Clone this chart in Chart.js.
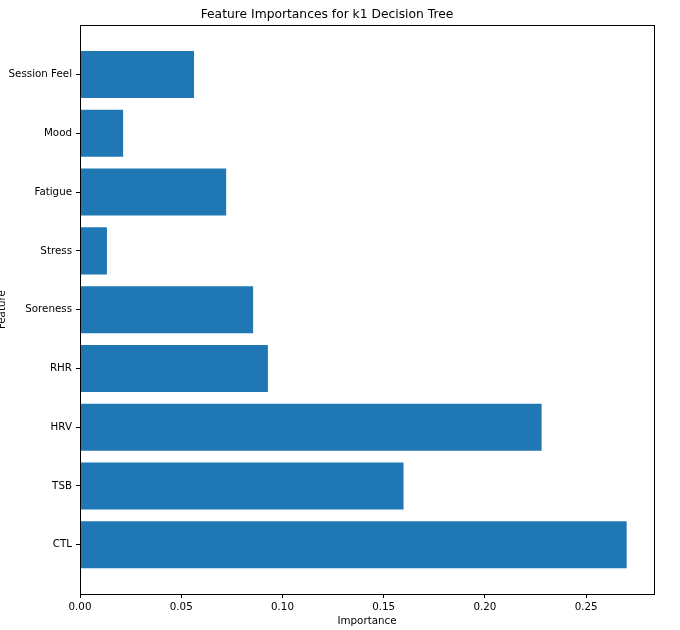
<!DOCTYPE html>
<html>
<head>
<meta charset="utf-8">
<script src="https://cdn.jsdelivr.net/npm/chart.js@4.4.1/dist/chart.umd.min.js"></script>
<style>
  html, body { margin: 0; padding: 0; background: #ffffff; }
  #wrap { width: 680px; height: 630px; position: relative; }
</style>
</head>
<body>
<div id="wrap"><canvas id="c"></canvas></div>
<script>
const categories = ["CTL", "TSB", "HRV", "RHR", "Soreness", "Stress", "Fatigue", "Mood", "Session Feel"];
const importances = [0.2700, 0.1598, 0.2280, 0.0928, 0.0855, 0.0133, 0.0722, 0.0213, 0.0563];
const xTicks = [0.00, 0.05, 0.10, 0.15, 0.20, 0.25];
const titleText = "Feature Importances for k1 Decision Tree";
const xLabel = "Importance";
const yLabel = "Feature";

const FONT = "'DejaVu Sans', sans-serif";

const framePlugin = {
  id: 'frame',
  afterDatasetsDraw(chart) {
    const a = chart.chartArea;
    const ctx = chart.ctx;
    ctx.save();
    ctx.strokeStyle = '#000000';
    ctx.lineWidth = 1;
    ctx.strokeRect(Math.round(a.left) + 0.5, Math.round(a.top) + 0.5,
                   Math.round(a.right - a.left), Math.round(a.bottom - a.top));
    ctx.restore();
  }
};

new Chart(document.getElementById('c'), {
  type: 'bar',
  data: {
    datasets: [{
      data: importances.map((v, i) => ({ x: v, y: i })),
      backgroundColor: '#1f77b4',
      borderWidth: 0,
      categoryPercentage: 0.8,
      barPercentage: 1.0
    }]
  },
  options: {
    indexAxis: 'y',
    responsive: true,
    maintainAspectRatio: false,
    animation: false,
    layout: { padding: { left: 0, right: 26, top: 0, bottom: 0 } },
    plugins: {
      legend: { display: false },
      tooltip: { enabled: false },
      title: {
        display: true,
        text: titleText,
        color: '#000000',
        font: { family: FONT, size: 12.3, weight: 'normal' },
        padding: { top: 7, bottom: 3.5 }
      }
    },
    scales: {
      x: {
        type: 'linear',
        min: 0,
        max: 0.2835,
        offset: false,
        afterFit(s) { s.height = 36; },
        afterBuildTicks(s) { s.ticks = xTicks.map(v => ({ value: v })); },
        ticks: {
          color: '#000000',
          font: { family: FONT, size: 10.3 },
          padding: 3,
          maxRotation: 0,
          callback: v => Number(v).toFixed(2)
        },
        grid: { offset: false, drawOnChartArea: false, drawTicks: true, tickLength: 4, color: '#000000', tickColor: '#000000' },
        border: { display: false },
        title: {
          display: true,
          text: xLabel,
          color: '#000000',
          font: { family: FONT, size: 10.3 },
          padding: { top: 0, bottom: 2 }
        }
      },
      y: {
        type: 'linear',
        min: -0.84,
        max: 8.84,
        offset: false,
        afterFit(s) { s.width = 80; },
        afterBuildTicks(s) { s.ticks = categories.map((c, i) => ({ value: i })); },
        ticks: {
          color: '#000000',
          font: { family: FONT, size: 10.3 },
          padding: 4,
          callback: v => categories[Math.round(v)]
        },
        grid: { offset: false, drawOnChartArea: false, drawTicks: true, tickLength: 4, color: '#000000', tickColor: '#000000' },
        border: { display: false },
        title: {
          display: true,
          text: yLabel,
          color: '#000000',
          font: { family: FONT, size: 10.3 },
          padding: { top: -4, bottom: 0 }
        }
      }
    }
  },
  plugins: [framePlugin]
});
</script>
</body>
</html>
